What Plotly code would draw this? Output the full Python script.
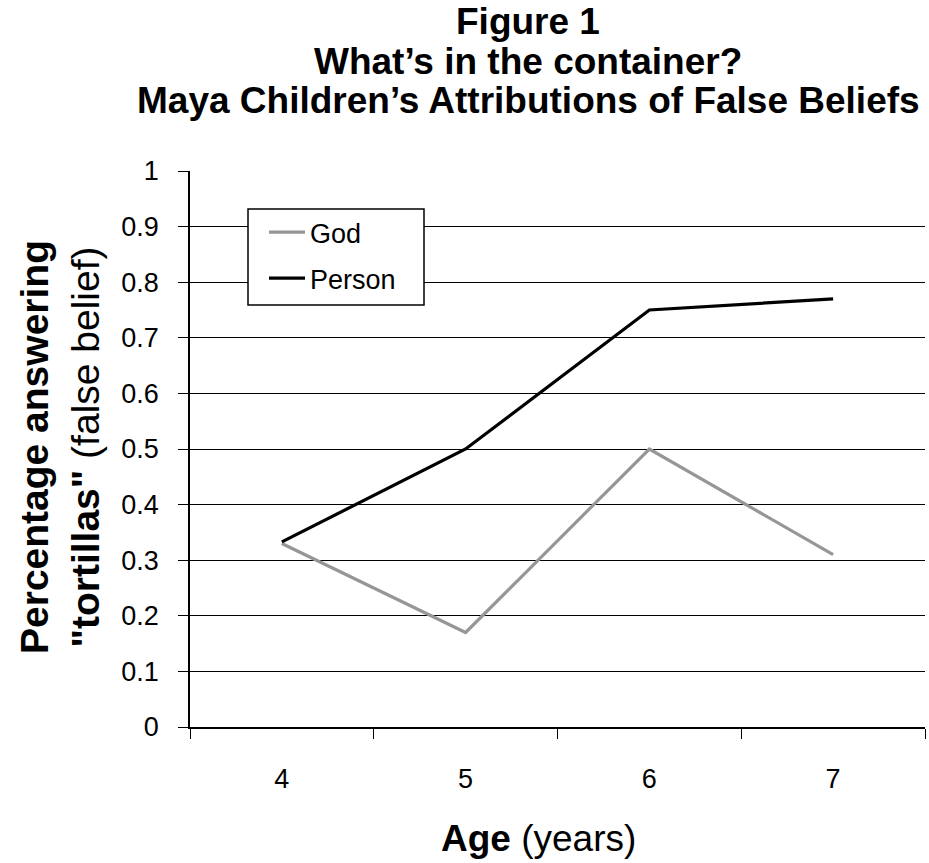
import plotly.graph_objects as go

ages = ["4", "5", "6", "7"]
god = [0.33, 0.17, 0.50, 0.31]
person = [0.333, 0.50, 0.75, 0.77]
y_ticks = [0, 0.1, 0.2, 0.3, 0.4, 0.5, 0.6, 0.7, 0.8, 0.9, 1]
title_lines = [
    "Figure 1",
    "What’s in the container?",
    "Maya Children’s Attributions of False Beliefs",
]

FONT = "Liberation Sans, Arial, sans-serif"

# plot area in pixels
L, R, T, B = 190, 925, 171, 727
W, H = 929, 863
PW, PH = R - L, B - T


def px_x(x):
    return (x - L) / PW


def px_y(y):
    return (B - y) / PH


fig = go.Figure()

fig.add_trace(go.Scatter(
    x=ages, y=god, name="God", mode="lines", legendgroup="g",
    line=dict(color="#969696", width=3.2)
))
fig.add_trace(go.Scatter(
    x=ages, y=person, name="Person", mode="lines", legendgroup="p",
    line=dict(color="black", width=3.2)
))

annotations = []
for i, line in enumerate(title_lines):
    annotations.append(dict(
        text="<b>" + line + "</b>",
        x=px_x(528), xref="paper", xanchor="center",
        y=px_y(22 + 39.5 * i), yref="paper", yanchor="middle",
        showarrow=False, font=dict(size=37)
    ))

annotations.append(dict(
    text="<b>Age</b> (years)",
    x=px_x(538), xref="paper", xanchor="center",
    y=px_y(838), yref="paper", yanchor="middle",
    showarrow=False, font=dict(size=37)
))
annotations.append(dict(
    text="<b>Percentage answering</b><br>"
         "<b>\"tortillas\"</b> (false belief)",
    textangle=-90,
    x=px_x(60), xref="paper", xanchor="center",
    y=px_y(447), yref="paper", yanchor="middle",
    showarrow=False, font=dict(size=39)
))

fig.update_layout(
    width=W,
    height=H,
    paper_bgcolor="white",
    plot_bgcolor="white",
    font=dict(family=FONT, color="black", size=27),
    margin=dict(l=L, r=W - R, t=T, b=H - B, autoexpand=False),
    showlegend=True,
    legend=dict(
        x=px_x(264), xanchor="left",
        y=px_y(208), yanchor="top",
        bgcolor="rgba(0,0,0,0)",
        borderwidth=0,
        font=dict(size=27),
        tracegroupgap=8,
        itemwidth=36
    ),
    xaxis=dict(
        type="category",
        range=[-0.5, 3.5],
        tickson="boundaries",
        ticks="outside",
        ticklen=10,
        tickcolor="black",
        showgrid=False,
        showline=True,
        linecolor="black",
        linewidth=1.5,
        ticklabelstandoff=27,
        tickfont=dict(size=27)
    ),
    yaxis=dict(
        range=[0, 1],
        tickvals=y_ticks,
        ticks="outside",
        ticklen=10,
        tickcolor="black",
        showgrid=True,
        gridcolor="black",
        gridwidth=1.2,
        showline=True,
        linecolor="black",
        linewidth=1.5,
        zeroline=False,
        ticklabelstandoff=14,
        tickfont=dict(size=27)
    ),
    shapes=[dict(
        type="rect", xref="paper", yref="paper", layer="above",
        x0=px_x(248), x1=px_x(424), y0=px_y(209), y1=px_y(305),
        fillcolor="white", line=dict(color="black", width=1.5)
    )],
    annotations=annotations
)

# drop the page's default 8px body margin so the figure fills the window
fig.write_html(
    "out.html",
    config={"displayModeBar": False},
    post_script="document.body.style.margin='0';"
)
